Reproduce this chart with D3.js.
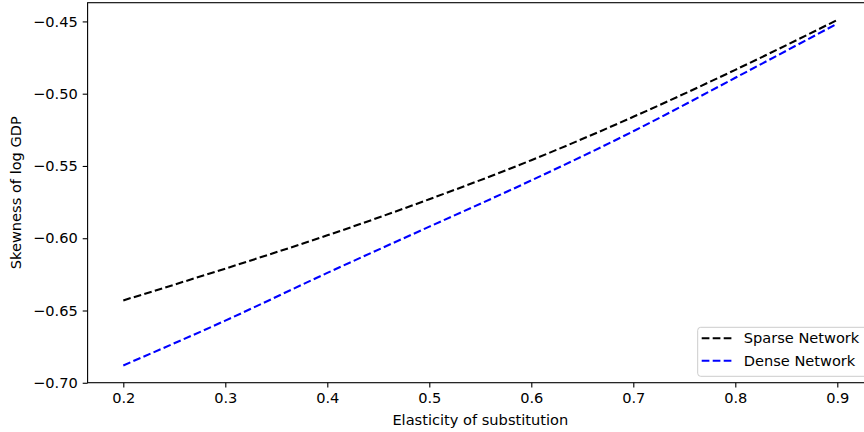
<!DOCTYPE html>
<html lang="en">
<head>
	<meta charset="UTF-8">
	<title>Skewness of log GDP</title>
	<script src="https://d3js.org/d3.v7.min.js"></script>
	<style>
		body { margin: 0; padding: 0; background: #fff; }
		svg { display: block; font-family: "DejaVu Sans", sans-serif; }
	</style>
</head>
<body>
	<div id="chart"></div>
	<script>
		// values
		const elasticity = [0.2, 0.3, 0.4, 0.5, 0.6, 0.7, 0.8, 0.9];
		const sparse = [-0.643, -0.621, -0.598, -0.573, -0.546, -0.516, -0.4835, -0.449];
		const dense = [-0.688, -0.657, -0.624, -0.592, -0.560, -0.526, -0.489, -0.4515];
		const xTicks = [0.2, 0.3, 0.4, 0.5, 0.6, 0.7, 0.8, 0.9];
		const yTicks = [-0.70, -0.65, -0.60, -0.55, -0.50, -0.45];
		const seriesNames = ["Sparse Network", "Dense Network"];
		const seriesColors = ["#000000", "#0000ff"];

		const W = 864, H = 432;
		const fontSize = "14.6px";
		// the axes run slightly past the right edge of the picture
		const margin = { left: 87.6, top: 2.7 };
		const plotW = 785.4, plotH = 380;

		const svg = d3.select("#chart").append("svg")
			.attr("width", W)
			.attr("height", H);

		const g = svg.append("g")
			.attr("transform", `translate(${margin.left},${margin.top})`);

		// matplotlib style 5% padding around the data
		const xMin = d3.min(elasticity), xMax = d3.max(elasticity);
		const xPad = (xMax - xMin) * 0.05;
		const allY = sparse.concat(dense);
		const yMin = d3.min(allY), yMax = d3.max(allY);
		const yPad = (yMax - yMin) * 0.05;

		const x = d3.scaleLinear().domain([xMin - xPad, xMax + xPad]).range([0, plotW]);
		const y = d3.scaleLinear().domain([yMin - yPad, yMax + yPad]).range([plotH, 0]);

		const fmtY = d => d3.format(".2f")(d).replace("-", "\u2212");

		const xAxis = g.append("g")
			.attr("transform", `translate(0,${plotH})`)
			.call(d3.axisBottom(x).tickValues(xTicks).tickFormat(d3.format(".1f")).tickSizeOuter(0).tickSize(4.9).tickPadding(4.9));

		const yAxis = g.append("g")
			.call(d3.axisLeft(y).tickValues(yTicks).tickFormat(fmtY).tickSizeOuter(0).tickSize(4.9).tickPadding(4.9));

		[xAxis, yAxis].forEach(a => {
			a.selectAll("text").attr("font-size", fontSize).attr("fill", "#000").attr("font-family", "DejaVu Sans, sans-serif");
			a.selectAll("line").attr("stroke", "#000").attr("stroke-width", 1.1);
			a.select(".domain").remove();
		});

		// spines
		g.append("rect")
			.attr("x", 0).attr("y", 0)
			.attr("width", plotW).attr("height", plotH)
			.attr("fill", "none")
			.attr("stroke", "#000")
			.attr("stroke-width", 1.1);

		const line = d3.line()
			.x((d, i) => x(elasticity[i]))
			.y(d => y(d))
			.curve(d3.curveMonotoneX);

		[sparse, dense].forEach((s, k) => {
			g.append("path")
				.datum(s)
				.attr("d", line)
				.attr("fill", "none")
				.attr("stroke", seriesColors[k])
				.attr("stroke-width", 2.1)
				.attr("stroke-dasharray", "7.7,3.3");
		});

		// axis labels
		svg.append("text")
			.attr("x", margin.left + x(0.55))
			.attr("y", 425)
			.attr("text-anchor", "middle")
			.attr("font-size", fontSize)
			.text("Elasticity of substitution");

		svg.append("text")
			.attr("transform", `translate(21,${margin.top + plotH / 2}) rotate(-90)`)
			.attr("text-anchor", "middle")
			.attr("font-size", fontSize)
			.text("Skewness of log GDP");

		// legend, lower right
		const legend = svg.append("g").attr("transform", "translate(697.7,327.3)");
		legend.append("rect")
			.attr("width", 172).attr("height", 49)
			.attr("rx", 3)
			.attr("fill", "#fff").attr("fill-opacity", 0.8)
			.attr("stroke", "#cccccc");

		seriesNames.forEach((name, i) => {
			const row = legend.append("g").attr("transform", `translate(0,${11 + i * 22.4})`);
			row.append("line")
				.attr("x1", 4).attr("x2", 34)
				.attr("stroke", seriesColors[i])
				.attr("stroke-width", 2.1)
				.attr("stroke-dasharray", "7.7,3.3");
			row.append("text")
				.attr("x", 46).attr("y", 5)
				.attr("font-size", fontSize)
				.text(name);
		});
	</script>
</body>
</html>
